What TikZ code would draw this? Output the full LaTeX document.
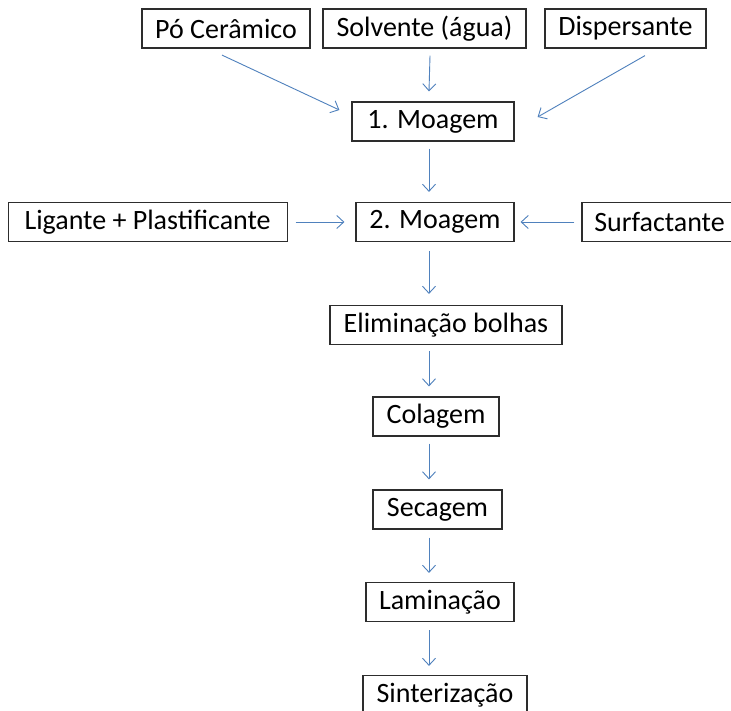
\documentclass[tikz,border=0pt]{standalone}
\usepackage{fontspec}
\setmainfont{Carlito}
\usepackage{tikz}
\usetikzlibrary{arrows.meta, positioning, calc}
\definecolor{flowblue}{RGB}{79, 129, 189}
\definecolor{boxline}{RGB}{45, 45, 45}

\tikzset{
  stepbox/.style={draw=boxline, line width=1.2pt, fill=white,
    minimum height=39pt, inner sep=0pt, font=\fontsize{28}{32}\selectfont},
  flow/.style={draw=flowblue, line width=0.9pt,
    -{Straight Barb[length=7pt, width=13pt]}}
}

\begin{document}
\begin{tikzpicture}[x=1pt, y=-1pt]
  \useasboundingbox[fill=white] (0,0) rectangle (731,711);

  % inputs
  \node[stepbox, minimum width=168pt] (po)   at (226,28.5) {Pó Cerâmico};
  \node[stepbox, minimum width=203pt] (solv) at (424.5,28.5) {Solvente (água)};
  \node[stepbox, minimum width=161pt] (disp) at (625.5,28.5) {Dispersante};

  % process line
  \node[stepbox, minimum width=162pt] (moag1) at (433,121.5) {1. Moagem};
  \node[stepbox, minimum width=158pt] (moag2) at (435,222) {2. Moagem};
  \node[stepbox, minimum width=279pt] (lig)   at (147.6,222) {Ligante + Plastificante};
  \node[stepbox, minimum width=155pt] (surf)  at (659.5,222) {Surfactante};
  \node[stepbox, minimum width=232pt] (elim)  at (446,325) {Eliminação bolhas};
  \node[stepbox, minimum width=126pt] (colag) at (436,416.5) {Colagem};
  \node[stepbox, minimum width=129pt] (secag) at (437.5,509.5) {Secagem};
  \node[stepbox, minimum width=148pt] (lamin) at (440,602) {Laminação};
  \node[stepbox, minimum width=164pt] (sint)  at (445,695) {Sinterização};

  % arrows
  \draw[flow] ($(po.south)+(-4,6.5)$) -- ($(moag1.west)+(-12,-11.5)$);
  \draw[flow] ($(solv.south)+(5.5,7)$) -- ($(moag1.north)+(-4,-10)$);
  \draw[flow] ($(disp.south)+(19.5,7)$) -- ($(moag1.east)+(23,-4.5)$);
  \draw[flow] ($(moag1.south)+(-4,7)$) -- ($(moag2.north)+(-6,-10)$);
  \draw[flow] ($(lig.east)+(8,0)$) -- ($(moag2.west)+(-11,0)$);
  \draw[flow] ($(surf.west)+(-7,0)$) -- ($(moag2.east)+(6,0)$);
  \draw[flow] ($(moag2.south)+(-6,9)$) -- ($(elim.north)+(-17,-11)$);
  \draw[flow] ($(elim.south)+(-17,6)$) -- ($(colag.north)+(-7,-10)$);
  \draw[flow] ($(colag.south)+(-7,7)$) -- ($(secag.north)+(-8.5,-10)$);
  \draw[flow] ($(secag.south)+(-8.5,8)$) -- ($(lamin.north)+(-11,-9)$);
  \draw[flow] ($(lamin.south)+(-11,8)$) -- ($(sint.north)+(-16,-9)$);
\end{tikzpicture}
\end{document}
